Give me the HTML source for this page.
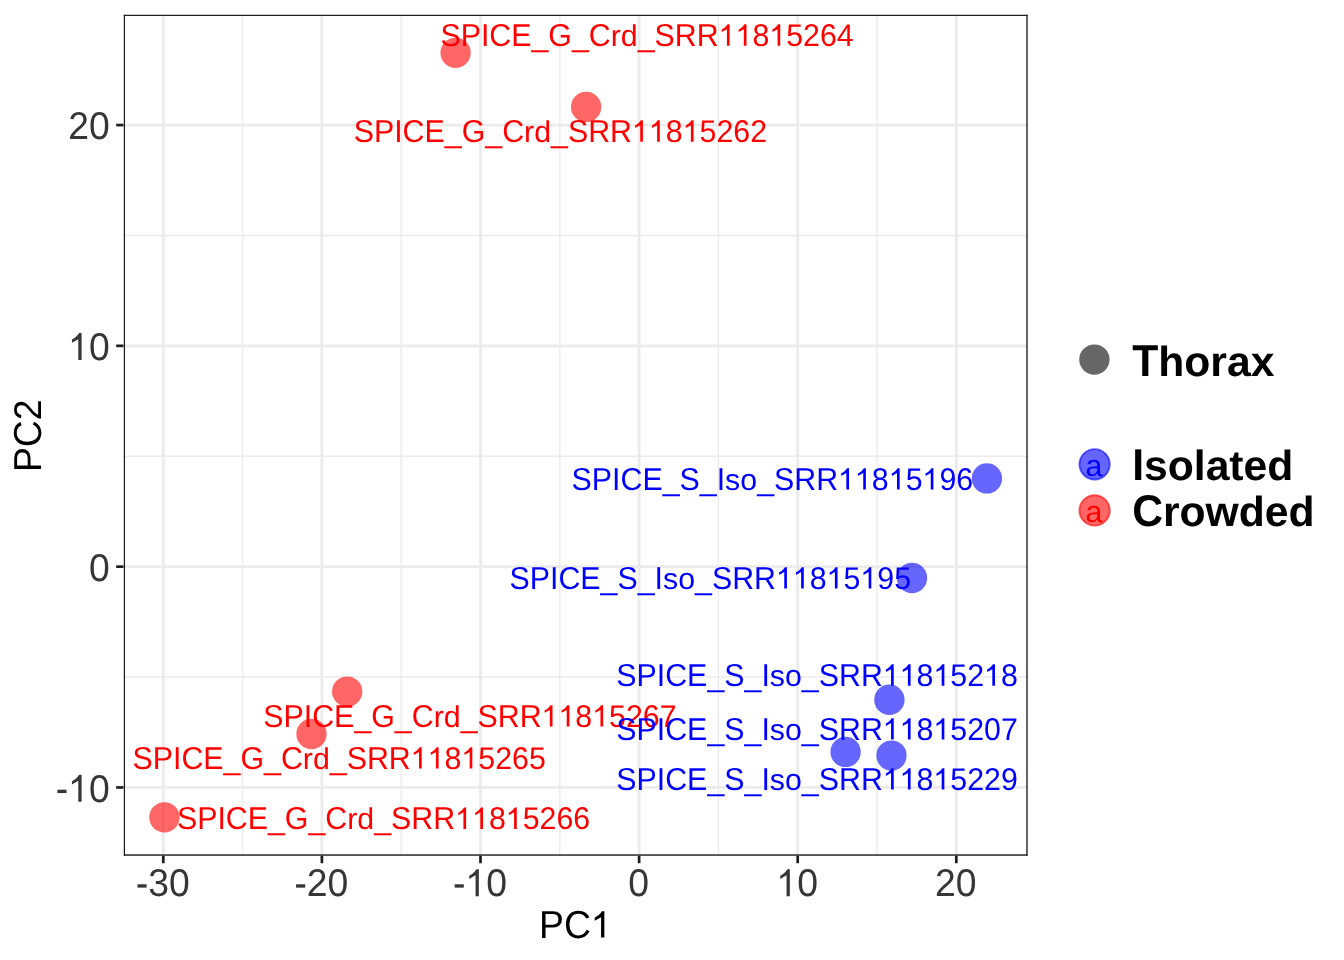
<!DOCTYPE html><html><head><meta charset="utf-8"><style>html,body{margin:0;padding:0;background:#fff;width:1344px;height:960px;overflow:hidden}svg{display:block;will-change:transform;text-rendering:geometricPrecision;font-kerning:none;font-family:"Liberation Sans",sans-serif}</style></head><body>
<svg width="1344" height="960" viewBox="0 0 1344 960">
<rect x="0" y="0" width="1344" height="960" fill="#fff"/>
<defs><clipPath id="pc"><rect x="123.5" y="14.5" width="904.40" height="841.40"/></clipPath></defs>
<g clip-path="url(#pc)">
<line x1="242.60" y1="14.5" x2="242.60" y2="855.9" stroke="#EBEBEB" stroke-width="1.42"/>
<line x1="401.20" y1="14.5" x2="401.20" y2="855.9" stroke="#EBEBEB" stroke-width="1.42"/>
<line x1="559.80" y1="14.5" x2="559.80" y2="855.9" stroke="#EBEBEB" stroke-width="1.42"/>
<line x1="718.40" y1="14.5" x2="718.40" y2="855.9" stroke="#EBEBEB" stroke-width="1.42"/>
<line x1="877.00" y1="14.5" x2="877.00" y2="855.9" stroke="#EBEBEB" stroke-width="1.42"/>
<line x1="123.5" y1="235.45" x2="1027.9" y2="235.45" stroke="#EBEBEB" stroke-width="1.42"/>
<line x1="123.5" y1="456.25" x2="1027.9" y2="456.25" stroke="#EBEBEB" stroke-width="1.42"/>
<line x1="123.5" y1="677.05" x2="1027.9" y2="677.05" stroke="#EBEBEB" stroke-width="1.42"/>
<line x1="163.30" y1="14.5" x2="163.30" y2="855.9" stroke="#EBEBEB" stroke-width="2.84"/>
<line x1="321.90" y1="14.5" x2="321.90" y2="855.9" stroke="#EBEBEB" stroke-width="2.84"/>
<line x1="480.50" y1="14.5" x2="480.50" y2="855.9" stroke="#EBEBEB" stroke-width="2.84"/>
<line x1="639.10" y1="14.5" x2="639.10" y2="855.9" stroke="#EBEBEB" stroke-width="2.84"/>
<line x1="797.70" y1="14.5" x2="797.70" y2="855.9" stroke="#EBEBEB" stroke-width="2.84"/>
<line x1="956.30" y1="14.5" x2="956.30" y2="855.9" stroke="#EBEBEB" stroke-width="2.84"/>
<line x1="123.5" y1="125.05" x2="1027.9" y2="125.05" stroke="#EBEBEB" stroke-width="2.84"/>
<line x1="123.5" y1="345.85" x2="1027.9" y2="345.85" stroke="#EBEBEB" stroke-width="2.84"/>
<line x1="123.5" y1="566.65" x2="1027.9" y2="566.65" stroke="#EBEBEB" stroke-width="2.84"/>
<line x1="123.5" y1="787.45" x2="1027.9" y2="787.45" stroke="#EBEBEB" stroke-width="2.84"/>
<circle cx="455.6" cy="52.8" r="15.17" fill="#FF0000" fill-opacity="0.6"/>
<circle cx="586.1" cy="106.9" r="15.17" fill="#FF0000" fill-opacity="0.6"/>
<circle cx="347.2" cy="691.6" r="15.17" fill="#FF0000" fill-opacity="0.6"/>
<circle cx="311.5" cy="734.0" r="15.17" fill="#FF0000" fill-opacity="0.6"/>
<circle cx="164.4" cy="817.3" r="15.17" fill="#FF0000" fill-opacity="0.6"/>
<circle cx="986.9" cy="478.4" r="15.17" fill="#0000FF" fill-opacity="0.6"/>
<circle cx="912.0" cy="578.0" r="15.17" fill="#0000FF" fill-opacity="0.6"/>
<circle cx="889.4" cy="699.75" r="15.17" fill="#0000FF" fill-opacity="0.6"/>
<circle cx="845.6" cy="751.9" r="15.17" fill="#0000FF" fill-opacity="0.6"/>
<circle cx="891.5" cy="755.6" r="15.17" fill="#0000FF" fill-opacity="0.6"/>
<g transform="translate(440.40,45.70)" fill="#FF0000"><text transform="scale(1,1.044)" x="0.00" y="0" font-size="30.35">SPICE</text><text transform="scale(1,1.04)" x="91.08" y="0" font-size="30.35">_</text><text transform="scale(1,1.044)" x="107.96" y="0" font-size="30.35">G</text><text transform="scale(1,1.04)" x="131.57" y="0" font-size="30.35">_</text><text transform="scale(1,1.044)" x="148.45" y="0" font-size="30.35">C</text><text transform="scale(1,0.99)" x="170.36" y="0" font-size="30.35">rd</text><text transform="scale(1,1.04)" x="197.35" y="0" font-size="30.35">_</text><text transform="scale(1,1.044)" x="214.23" y="0" font-size="30.35">SRR</text><path transform="translate(278.31,0) scale(0.03035,-0.03035)" d="M359 703L359 0L271 0L271 545L101 450L101 535C180 570 250 630 293 703Z"/><path transform="translate(295.19,0) scale(0.03035,-0.03035)" d="M359 703L359 0L271 0L271 545L101 450L101 535C180 570 250 630 293 703Z"/><text transform="scale(1,1.035)" x="312.07" y="0" font-size="30.35">8</text><path transform="translate(328.94,0) scale(0.03035,-0.03035)" d="M359 703L359 0L271 0L271 545L101 450L101 535C180 570 250 630 293 703Z"/><text transform="scale(1,1.035)" x="345.82" y="0" font-size="30.35">5264</text></g>
<g transform="translate(353.70,141.70)" fill="#FF0000"><text transform="scale(1,1.044)" x="0.00" y="0" font-size="30.35">SPICE</text><text transform="scale(1,1.04)" x="91.08" y="0" font-size="30.35">_</text><text transform="scale(1,1.044)" x="107.96" y="0" font-size="30.35">G</text><text transform="scale(1,1.04)" x="131.57" y="0" font-size="30.35">_</text><text transform="scale(1,1.044)" x="148.45" y="0" font-size="30.35">C</text><text transform="scale(1,0.99)" x="170.36" y="0" font-size="30.35">rd</text><text transform="scale(1,1.04)" x="197.35" y="0" font-size="30.35">_</text><text transform="scale(1,1.044)" x="214.23" y="0" font-size="30.35">SRR</text><path transform="translate(278.31,0) scale(0.03035,-0.03035)" d="M359 703L359 0L271 0L271 545L101 450L101 535C180 570 250 630 293 703Z"/><path transform="translate(295.19,0) scale(0.03035,-0.03035)" d="M359 703L359 0L271 0L271 545L101 450L101 535C180 570 250 630 293 703Z"/><text transform="scale(1,1.035)" x="312.07" y="0" font-size="30.35">8</text><path transform="translate(328.94,0) scale(0.03035,-0.03035)" d="M359 703L359 0L271 0L271 545L101 450L101 535C180 570 250 630 293 703Z"/><text transform="scale(1,1.035)" x="345.82" y="0" font-size="30.35">5262</text></g>
<g transform="translate(263.30,726.50)" fill="#FF0000"><text transform="scale(1,1.044)" x="0.00" y="0" font-size="30.35">SPICE</text><text transform="scale(1,1.04)" x="91.08" y="0" font-size="30.35">_</text><text transform="scale(1,1.044)" x="107.96" y="0" font-size="30.35">G</text><text transform="scale(1,1.04)" x="131.57" y="0" font-size="30.35">_</text><text transform="scale(1,1.044)" x="148.45" y="0" font-size="30.35">C</text><text transform="scale(1,0.99)" x="170.36" y="0" font-size="30.35">rd</text><text transform="scale(1,1.04)" x="197.35" y="0" font-size="30.35">_</text><text transform="scale(1,1.044)" x="214.23" y="0" font-size="30.35">SRR</text><path transform="translate(278.31,0) scale(0.03035,-0.03035)" d="M359 703L359 0L271 0L271 545L101 450L101 535C180 570 250 630 293 703Z"/><path transform="translate(295.19,0) scale(0.03035,-0.03035)" d="M359 703L359 0L271 0L271 545L101 450L101 535C180 570 250 630 293 703Z"/><text transform="scale(1,1.035)" x="312.07" y="0" font-size="30.35">8</text><path transform="translate(328.94,0) scale(0.03035,-0.03035)" d="M359 703L359 0L271 0L271 545L101 450L101 535C180 570 250 630 293 703Z"/><text transform="scale(1,1.035)" x="345.82" y="0" font-size="30.35">5267</text></g>
<g transform="translate(132.50,768.55)" fill="#FF0000"><text transform="scale(1,1.044)" x="0.00" y="0" font-size="30.35">SPICE</text><text transform="scale(1,1.04)" x="91.08" y="0" font-size="30.35">_</text><text transform="scale(1,1.044)" x="107.96" y="0" font-size="30.35">G</text><text transform="scale(1,1.04)" x="131.57" y="0" font-size="30.35">_</text><text transform="scale(1,1.044)" x="148.45" y="0" font-size="30.35">C</text><text transform="scale(1,0.99)" x="170.36" y="0" font-size="30.35">rd</text><text transform="scale(1,1.04)" x="197.35" y="0" font-size="30.35">_</text><text transform="scale(1,1.044)" x="214.23" y="0" font-size="30.35">SRR</text><path transform="translate(278.31,0) scale(0.03035,-0.03035)" d="M359 703L359 0L271 0L271 545L101 450L101 535C180 570 250 630 293 703Z"/><path transform="translate(295.19,0) scale(0.03035,-0.03035)" d="M359 703L359 0L271 0L271 545L101 450L101 535C180 570 250 630 293 703Z"/><text transform="scale(1,1.035)" x="312.07" y="0" font-size="30.35">8</text><path transform="translate(328.94,0) scale(0.03035,-0.03035)" d="M359 703L359 0L271 0L271 545L101 450L101 535C180 570 250 630 293 703Z"/><text transform="scale(1,1.035)" x="345.82" y="0" font-size="30.35">5265</text></g>
<g transform="translate(176.90,828.90)" fill="#FF0000"><text transform="scale(1,1.044)" x="0.00" y="0" font-size="30.35">SPICE</text><text transform="scale(1,1.04)" x="91.08" y="0" font-size="30.35">_</text><text transform="scale(1,1.044)" x="107.96" y="0" font-size="30.35">G</text><text transform="scale(1,1.04)" x="131.57" y="0" font-size="30.35">_</text><text transform="scale(1,1.044)" x="148.45" y="0" font-size="30.35">C</text><text transform="scale(1,0.99)" x="170.36" y="0" font-size="30.35">rd</text><text transform="scale(1,1.04)" x="197.35" y="0" font-size="30.35">_</text><text transform="scale(1,1.044)" x="214.23" y="0" font-size="30.35">SRR</text><path transform="translate(278.31,0) scale(0.03035,-0.03035)" d="M359 703L359 0L271 0L271 545L101 450L101 535C180 570 250 630 293 703Z"/><path transform="translate(295.19,0) scale(0.03035,-0.03035)" d="M359 703L359 0L271 0L271 545L101 450L101 535C180 570 250 630 293 703Z"/><text transform="scale(1,1.035)" x="312.07" y="0" font-size="30.35">8</text><path transform="translate(328.94,0) scale(0.03035,-0.03035)" d="M359 703L359 0L271 0L271 545L101 450L101 535C180 570 250 630 293 703Z"/><text transform="scale(1,1.035)" x="345.82" y="0" font-size="30.35">5266</text></g>
<g transform="translate(571.60,489.60)" fill="#0000FF"><text transform="scale(1,1.044)" x="0.00" y="0" font-size="30.35">SPICE</text><text transform="scale(1,1.04)" x="91.08" y="0" font-size="30.35">_</text><text transform="scale(1,1.044)" x="107.96" y="0" font-size="30.35">S</text><text transform="scale(1,1.04)" x="128.20" y="0" font-size="30.35">_</text><text transform="scale(1,1.044)" x="145.08" y="0" font-size="30.35">I</text><text transform="scale(1,0.99)" x="153.51" y="0" font-size="30.35">so</text><text transform="scale(1,1.04)" x="185.57" y="0" font-size="30.35">_</text><text transform="scale(1,1.044)" x="202.45" y="0" font-size="30.35">SRR</text><path transform="translate(266.53,0) scale(0.03035,-0.03035)" d="M359 703L359 0L271 0L271 545L101 450L101 535C180 570 250 630 293 703Z"/><path transform="translate(283.40,0) scale(0.03035,-0.03035)" d="M359 703L359 0L271 0L271 545L101 450L101 535C180 570 250 630 293 703Z"/><text transform="scale(1,1.035)" x="300.28" y="0" font-size="30.35">8</text><path transform="translate(317.16,0) scale(0.03035,-0.03035)" d="M359 703L359 0L271 0L271 545L101 450L101 535C180 570 250 630 293 703Z"/><text transform="scale(1,1.035)" x="334.04" y="0" font-size="30.35">5</text><path transform="translate(350.92,0) scale(0.03035,-0.03035)" d="M359 703L359 0L271 0L271 545L101 450L101 535C180 570 250 630 293 703Z"/><text transform="scale(1,1.035)" x="367.80" y="0" font-size="30.35">96</text></g>
<g transform="translate(509.50,588.55)" fill="#0000FF"><text transform="scale(1,1.044)" x="0.00" y="0" font-size="30.35">SPICE</text><text transform="scale(1,1.04)" x="91.08" y="0" font-size="30.35">_</text><text transform="scale(1,1.044)" x="107.96" y="0" font-size="30.35">S</text><text transform="scale(1,1.04)" x="128.20" y="0" font-size="30.35">_</text><text transform="scale(1,1.044)" x="145.08" y="0" font-size="30.35">I</text><text transform="scale(1,0.99)" x="153.51" y="0" font-size="30.35">so</text><text transform="scale(1,1.04)" x="185.57" y="0" font-size="30.35">_</text><text transform="scale(1,1.044)" x="202.45" y="0" font-size="30.35">SRR</text><path transform="translate(266.53,0) scale(0.03035,-0.03035)" d="M359 703L359 0L271 0L271 545L101 450L101 535C180 570 250 630 293 703Z"/><path transform="translate(283.40,0) scale(0.03035,-0.03035)" d="M359 703L359 0L271 0L271 545L101 450L101 535C180 570 250 630 293 703Z"/><text transform="scale(1,1.035)" x="300.28" y="0" font-size="30.35">8</text><path transform="translate(317.16,0) scale(0.03035,-0.03035)" d="M359 703L359 0L271 0L271 545L101 450L101 535C180 570 250 630 293 703Z"/><text transform="scale(1,1.035)" x="334.04" y="0" font-size="30.35">5</text><path transform="translate(350.92,0) scale(0.03035,-0.03035)" d="M359 703L359 0L271 0L271 545L101 450L101 535C180 570 250 630 293 703Z"/><text transform="scale(1,1.035)" x="367.80" y="0" font-size="30.35">95</text></g>
<g transform="translate(616.30,685.70)" fill="#0000FF"><text transform="scale(1,1.044)" x="0.00" y="0" font-size="30.35">SPICE</text><text transform="scale(1,1.04)" x="91.08" y="0" font-size="30.35">_</text><text transform="scale(1,1.044)" x="107.96" y="0" font-size="30.35">S</text><text transform="scale(1,1.04)" x="128.20" y="0" font-size="30.35">_</text><text transform="scale(1,1.044)" x="145.08" y="0" font-size="30.35">I</text><text transform="scale(1,0.99)" x="153.51" y="0" font-size="30.35">so</text><text transform="scale(1,1.04)" x="185.57" y="0" font-size="30.35">_</text><text transform="scale(1,1.044)" x="202.45" y="0" font-size="30.35">SRR</text><path transform="translate(266.53,0) scale(0.03035,-0.03035)" d="M359 703L359 0L271 0L271 545L101 450L101 535C180 570 250 630 293 703Z"/><path transform="translate(283.40,0) scale(0.03035,-0.03035)" d="M359 703L359 0L271 0L271 545L101 450L101 535C180 570 250 630 293 703Z"/><text transform="scale(1,1.035)" x="300.28" y="0" font-size="30.35">8</text><path transform="translate(317.16,0) scale(0.03035,-0.03035)" d="M359 703L359 0L271 0L271 545L101 450L101 535C180 570 250 630 293 703Z"/><text transform="scale(1,1.035)" x="334.04" y="0" font-size="30.35">52</text><path transform="translate(367.80,0) scale(0.03035,-0.03035)" d="M359 703L359 0L271 0L271 545L101 450L101 535C180 570 250 630 293 703Z"/><text transform="scale(1,1.035)" x="384.68" y="0" font-size="30.35">8</text></g>
<g transform="translate(616.30,739.60)" fill="#0000FF"><text transform="scale(1,1.044)" x="0.00" y="0" font-size="30.35">SPICE</text><text transform="scale(1,1.04)" x="91.08" y="0" font-size="30.35">_</text><text transform="scale(1,1.044)" x="107.96" y="0" font-size="30.35">S</text><text transform="scale(1,1.04)" x="128.20" y="0" font-size="30.35">_</text><text transform="scale(1,1.044)" x="145.08" y="0" font-size="30.35">I</text><text transform="scale(1,0.99)" x="153.51" y="0" font-size="30.35">so</text><text transform="scale(1,1.04)" x="185.57" y="0" font-size="30.35">_</text><text transform="scale(1,1.044)" x="202.45" y="0" font-size="30.35">SRR</text><path transform="translate(266.53,0) scale(0.03035,-0.03035)" d="M359 703L359 0L271 0L271 545L101 450L101 535C180 570 250 630 293 703Z"/><path transform="translate(283.40,0) scale(0.03035,-0.03035)" d="M359 703L359 0L271 0L271 545L101 450L101 535C180 570 250 630 293 703Z"/><text transform="scale(1,1.035)" x="300.28" y="0" font-size="30.35">8</text><path transform="translate(317.16,0) scale(0.03035,-0.03035)" d="M359 703L359 0L271 0L271 545L101 450L101 535C180 570 250 630 293 703Z"/><text transform="scale(1,1.035)" x="334.04" y="0" font-size="30.35">5207</text></g>
<g transform="translate(616.30,789.60)" fill="#0000FF"><text transform="scale(1,1.044)" x="0.00" y="0" font-size="30.35">SPICE</text><text transform="scale(1,1.04)" x="91.08" y="0" font-size="30.35">_</text><text transform="scale(1,1.044)" x="107.96" y="0" font-size="30.35">S</text><text transform="scale(1,1.04)" x="128.20" y="0" font-size="30.35">_</text><text transform="scale(1,1.044)" x="145.08" y="0" font-size="30.35">I</text><text transform="scale(1,0.99)" x="153.51" y="0" font-size="30.35">so</text><text transform="scale(1,1.04)" x="185.57" y="0" font-size="30.35">_</text><text transform="scale(1,1.044)" x="202.45" y="0" font-size="30.35">SRR</text><path transform="translate(266.53,0) scale(0.03035,-0.03035)" d="M359 703L359 0L271 0L271 545L101 450L101 535C180 570 250 630 293 703Z"/><path transform="translate(283.40,0) scale(0.03035,-0.03035)" d="M359 703L359 0L271 0L271 545L101 450L101 535C180 570 250 630 293 703Z"/><text transform="scale(1,1.035)" x="300.28" y="0" font-size="30.35">8</text><path transform="translate(317.16,0) scale(0.03035,-0.03035)" d="M359 703L359 0L271 0L271 545L101 450L101 535C180 570 250 630 293 703Z"/><text transform="scale(1,1.035)" x="334.04" y="0" font-size="30.35">5229</text></g>
<rect x="123.6" y="14.55" width="1.42" height="841.2" fill="#1A1A1A"/>
<rect x="1026.3" y="14.55" width="1.42" height="841.2" fill="#1A1A1A"/>
<rect x="123.6" y="14.55" width="904.1" height="1.42" fill="#1A1A1A"/>
<rect x="123.6" y="854.35" width="904.1" height="1.40" fill="#1A1A1A"/>
</g>
<line x1="163.30" y1="855.9" x2="163.30" y2="863.23" stroke="#1E1E1E" stroke-width="2.7"/>
<g transform="translate(162.80,896.30)" fill="#363636"><path transform="translate(-26.98,0) scale(0.03733,-0.03733)" d="M44 232L289 232L289 322L44 322Z"/><text transform="scale(1,1.035)" x="-14.55" y="0" font-size="37.33">30</text></g>
<line x1="321.90" y1="855.9" x2="321.90" y2="863.23" stroke="#1E1E1E" stroke-width="2.7"/>
<g transform="translate(321.40,896.30)" fill="#363636"><path transform="translate(-26.98,0) scale(0.03733,-0.03733)" d="M44 232L289 232L289 322L44 322Z"/><text transform="scale(1,1.035)" x="-14.55" y="0" font-size="37.33">20</text></g>
<line x1="480.50" y1="855.9" x2="480.50" y2="863.23" stroke="#1E1E1E" stroke-width="2.7"/>
<g transform="translate(480.00,896.30)" fill="#363636"><path transform="translate(-26.98,0) scale(0.03733,-0.03733)" d="M44 232L289 232L289 322L44 322Z"/><path transform="translate(-14.55,0) scale(0.03733,-0.03845)" d="M359 703L359 0L271 0L271 545L101 450L101 535C180 570 250 630 293 703Z"/><text transform="scale(1,1.035)" x="6.22" y="0" font-size="37.33">0</text></g>
<line x1="639.10" y1="855.9" x2="639.10" y2="863.23" stroke="#1E1E1E" stroke-width="2.7"/>
<g transform="translate(638.60,896.30)" fill="#363636"><text transform="scale(1,1.035)" x="-10.38" y="0" font-size="37.33">0</text></g>
<line x1="797.70" y1="855.9" x2="797.70" y2="863.23" stroke="#1E1E1E" stroke-width="2.7"/>
<g transform="translate(797.20,896.30)" fill="#363636"><path transform="translate(-20.76,0) scale(0.03733,-0.03845)" d="M359 703L359 0L271 0L271 545L101 450L101 535C180 570 250 630 293 703Z"/><text transform="scale(1,1.035)" x="0.00" y="0" font-size="37.33">0</text></g>
<line x1="956.30" y1="855.9" x2="956.30" y2="863.23" stroke="#1E1E1E" stroke-width="2.7"/>
<g transform="translate(955.80,896.30)" fill="#363636"><text transform="scale(1,1.035)" x="-20.76" y="0" font-size="37.33">20</text></g>
<line x1="116.17" y1="125.05" x2="123.5" y2="125.05" stroke="#1E1E1E" stroke-width="2.7"/>
<g transform="translate(109.70,139.32)" fill="#363636"><text transform="scale(1,1.035)" x="-41.52" y="0" font-size="37.33">20</text></g>
<line x1="116.17" y1="345.85" x2="123.5" y2="345.85" stroke="#1E1E1E" stroke-width="2.7"/>
<g transform="translate(109.70,360.12)" fill="#363636"><path transform="translate(-41.52,0) scale(0.03733,-0.03845)" d="M359 703L359 0L271 0L271 545L101 450L101 535C180 570 250 630 293 703Z"/><text transform="scale(1,1.035)" x="-20.76" y="0" font-size="37.33">0</text></g>
<line x1="116.17" y1="566.65" x2="123.5" y2="566.65" stroke="#1E1E1E" stroke-width="2.7"/>
<g transform="translate(109.70,580.92)" fill="#363636"><text transform="scale(1,1.035)" x="-20.76" y="0" font-size="37.33">0</text></g>
<line x1="116.17" y1="787.45" x2="123.5" y2="787.45" stroke="#1E1E1E" stroke-width="2.7"/>
<g transform="translate(109.70,801.72)" fill="#363636"><path transform="translate(-53.95,0) scale(0.03733,-0.03733)" d="M44 232L289 232L289 322L44 322Z"/><path transform="translate(-41.52,0) scale(0.03733,-0.03845)" d="M359 703L359 0L271 0L271 545L101 450L101 535C180 570 250 630 293 703Z"/><text transform="scale(1,1.035)" x="-20.76" y="0" font-size="37.33">0</text></g>
<g transform="translate(575.40,937.60)" fill="#000"><text transform="scale(1,1.044)" x="-36.31" y="0" font-size="37.33">PC</text><path transform="translate(15.55,0) scale(0.03733,-0.03733)" d="M359 703L359 0L271 0L271 545L101 450L101 535C180 570 250 630 293 703Z"/></g>
<g transform="translate(40.90,435.80) rotate(-90)" fill="#000"><text transform="scale(1,1.044)" x="-36.31" y="0" font-size="37.33">PC</text><text transform="scale(1,1.035)" x="15.55" y="0" font-size="37.33">2</text></g>
<circle cx="1094.4" cy="359.6" r="15.17" fill="#000" fill-opacity="0.6"/>
<g transform="translate(1132.15,375.90)" fill="#000"><text transform="scale(1,1.044)" x="0.00" y="0" font-size="42.67" font-weight="bold">T</text><text transform="scale(1,0.99)" x="26.06" y="0" font-size="42.67" font-weight="bold">horax</text></g>
<circle cx="1094.6" cy="464.3" r="15.17" fill="#0000FF" fill-opacity="0.6" stroke="#0000FF" stroke-opacity="0.6" stroke-width="1.89"/>
<g transform="translate(1094.00,475.60)" fill="#0000FF"><text transform="scale(1,0.99)" x="-8.44" y="0" font-size="30.35">a</text></g>
<g transform="translate(1132.15,479.90)" fill="#000"><text transform="scale(1,1.044)" x="0.00" y="0" font-size="42.67" font-weight="bold">I</text><text transform="scale(1,0.99)" x="11.86" y="0" font-size="42.67" font-weight="bold">solated</text></g>
<circle cx="1094.6" cy="510.4" r="15.17" fill="#FF0000" fill-opacity="0.6" stroke="#FF0000" stroke-opacity="0.6" stroke-width="1.89"/>
<g transform="translate(1094.00,521.90)" fill="#FF0000"><text transform="scale(1,0.99)" x="-8.44" y="0" font-size="30.35">a</text></g>
<g transform="translate(1132.15,525.60)" fill="#000"><text transform="scale(1,1.044)" x="0.00" y="0" font-size="42.67" font-weight="bold">C</text><text transform="scale(1,0.99)" x="30.81" y="0" font-size="42.67" font-weight="bold">rowded</text></g>
</svg></body></html>
